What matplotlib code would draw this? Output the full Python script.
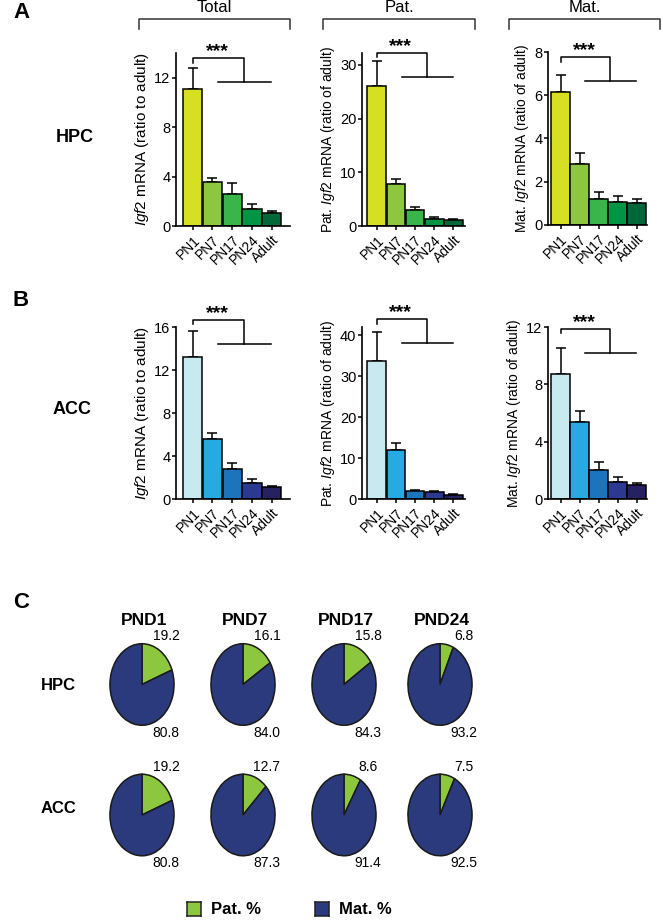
import matplotlib
matplotlib.use('Agg')
import matplotlib.pyplot as plt
import matplotlib.transforms as mtransforms

plt.rcParams['font.family'] = ['Liberation Sans', 'DejaVu Sans']
plt.rcParams['mathtext.fontset'] = 'custom'
plt.rcParams['mathtext.it'] = 'Liberation Sans:italic'
plt.rcParams['mathtext.rm'] = 'Liberation Sans'

# ---- data ----
ages = ['PN1', 'PN7', 'PN17', 'PN24', 'Adult']
hpc_total = [11.05, 3.55, 2.63, 1.34, 1.05]
hpc_total_err = [1.7, 0.3, 0.83, 0.43, 0.13]
hpc_pat = [26.1, 7.76, 2.98, 1.3, 1.06]
hpc_pat_err = [4.6, 1.0, 0.56, 0.38, 0.15]
hpc_mat = [6.17, 2.81, 1.19, 1.05, 1.02]
hpc_mat_err = [0.77, 0.51, 0.34, 0.28, 0.18]
acc_total = [13.2, 5.59, 2.81, 1.48, 1.08]
acc_total_err = [2.4, 0.58, 0.53, 0.4, 0.09]
acc_pat = [33.8, 11.95, 1.95, 1.6, 1.05]
acc_pat_err = [6.9, 1.7, 0.25, 0.35, 0.25]
acc_mat = [8.74, 5.39, 2.0, 1.21, 1.0]
acc_mat_err = [1.82, 0.75, 0.6, 0.3, 0.12]

pnd = ['PND1', 'PND7', 'PND17', 'PND24']
hpc_pat_pct = [19.2, 16.1, 15.8, 6.8]
hpc_mat_pct = [80.8, 84.0, 84.3, 93.2]
acc_pat_pct = [19.2, 12.7, 8.6, 7.5]
acc_mat_pct = [80.8, 87.3, 91.4, 92.5]

green_cols = ['#d7df23', '#8dc63f', '#39b54a', '#009444', '#006838']
blue_cols = ['#c9e9f1', '#27aae1', '#1c75bc', '#2b3990', '#262262']
PAT_C, MAT_C = '#8dc63f', '#2a3a7c'

W, H = 663, 922
fig = plt.figure(figsize=(W / 100, H / 100), dpi=100)

def px_axes(x0, y0, x1, y1):
    # pixel box (top-left origin) -> figure axes
    return fig.add_axes([x0 / W, 1 - y1 / H, (x1 - x0) / W, (y1 - y0) / H])

ylab_total = r'$\it{Igf2}$ mRNA (ratio to adult)'
ylab_pat = r'Pat. $\it{Igf2}$ mRNA (ratio of adult)'
ylab_mat = r'Mat. $\it{Igf2}$ mRNA (ratio of adult)'

# (values, err, colors, pixel box, ylim, yticks, ylabel, label size, xlim, bracket top frac)
bar_panels = [
    (hpc_total, hpc_total_err, green_cols, (176, 53, 290, 226), 14, [0, 4, 8, 12], ylab_total, 11, (-0.85, 4.93), 0.97),
    (hpc_pat, hpc_pat_err, green_cols, (362, 53, 465, 226), 32.2, [0, 10, 20, 30], ylab_pat, 10, (-0.76, 4.6), 1.0),
    (hpc_mat, hpc_mat_err, green_cols, (548, 52, 647, 225), 8, [0, 2, 4, 6, 8], ylab_mat, 10, (-0.66, 4.55), 0.97),
    (acc_total, acc_total_err, blue_cols, (176, 327, 290, 499), 16, [0, 4, 8, 12, 16], ylab_total, 11, (-0.85, 4.93), 1.04),
    (acc_pat, acc_pat_err, blue_cols, (362, 327, 465, 499), 42, [0, 10, 20, 30, 40], ylab_pat, 10, (-0.76, 4.6), 1.045),
    (acc_mat, acc_mat_err, blue_cols, (548, 327, 647, 499), 12, [0, 4, 8, 12], ylab_mat, 10, (-0.66, 4.55), 0.99),
]

for vals, errs, cols, box, ytop, yt, ylab, lsz, xl, btop in bar_panels:
    ax = px_axes(*box)
    xs = list(range(len(vals)))
    ax.bar(xs, vals, width=0.97, color=cols, edgecolor='black', linewidth=1.1, zorder=2)
    ax.errorbar(xs, vals, yerr=[[0] * len(errs), errs], fmt='none', ecolor='black',
                elinewidth=1.1, capsize=3.6, capthick=1.1, zorder=1)
    ax.set_xlim(*xl)
    ax.set_ylim(0, ytop)
    ax.set_yticks(yt)
    ax.set_xticks(xs)
    ax.set_xticklabels(ages, rotation=45, ha='right', rotation_mode='anchor', fontsize=10)
    ax.tick_params(axis='y', labelsize=10.5, width=1.1, length=3, pad=1)
    ax.tick_params(axis='x', width=1.1, length=3, pad=2)
    for s in ['top', 'right']:
        ax.spines[s].set_visible(False)
    for s in ['left', 'bottom']:
        ax.spines[s].set_linewidth(1.2)
    ax.set_ylabel(ylab, fontsize=lsz, labelpad=2)
    # significance bracket
    tr = mtransforms.blended_transform_factory(ax.transData, ax.transAxes)
    low = btop - 0.14
    kw = dict(color='black', lw=1.1, transform=tr, clip_on=False)
    ax.plot([0, 0, 2.6, 2.6], [btop - 0.025, btop, btop, low], **kw)
    ax.plot([1.3, 3.95], [low, low], **kw)
    ax.text(1.25, btop - 0.012, '***', transform=tr, ha='center', va='bottom',
            fontsize=14, fontweight='bold')

# column brackets
for x0, x1, lab in [(139, 290, 'Total'), (323, 475, 'Pat.'), (509, 660, 'Mat.')]:
    fig.lines.append(plt.Line2D([x0 / W, x0 / W, x1 / W, x1 / W],
                                [1 - 29 / H, 1 - 19 / H, 1 - 19 / H, 1 - 29 / H],
                                color='#333333', lw=1.1, transform=fig.transFigure))
    fig.text((x0 + x1) / 2 / W, 1 - 8 / H, lab, ha='center', va='center', fontsize=12)

def ftext(x, y, s, **kw):
    fig.text(x / W, 1 - y / H, s, **kw)

ftext(13, 13, 'A', fontsize=16, fontweight='bold', va='center', ha='left')
ftext(13, 300, 'B', fontsize=16, fontweight='bold', va='center', ha='left')
ftext(13, 602, 'C', fontsize=16, fontweight='bold', va='center', ha='left')
ftext(75, 138, 'HPC', fontsize=13, fontweight='bold', ha='center', va='center')
ftext(72, 410, 'ACC', fontsize=13, fontweight='bold', ha='center', va='center')
ftext(58, 685, 'HPC', fontsize=12, fontweight='bold', ha='center', va='center')
ftext(58, 808, 'ACC', fontsize=12, fontweight='bold', ha='center', va='center')

# ---- pies ----
pie_cx = [142, 243, 344, 440]
pie_rows = [(hpc_pat_pct, hpc_mat_pct, 684.5), (acc_pat_pct, acc_mat_pct, 815)]
for i, name in enumerate(pnd):
    ftext(pie_cx[i] + 2, 620, name, fontsize=12.5, fontweight='bold', ha='center', va='center')
for pat, mat, cy in pie_rows:
    for i in range(len(pnd)):
        cx = pie_cx[i]
        ax = px_axes(cx - 33, cy - 42, cx + 33, cy + 42)
        ax.pie([pat[i], mat[i]], colors=[PAT_C, MAT_C], startangle=90, counterclock=False,
               wedgeprops=dict(edgecolor='#1a1a1a', linewidth=1.1))
        ax.set_aspect('auto')
        ax.set_xlim(-1.03, 1.03)
        ax.set_ylim(-1.03, 1.03)
        ax.axis('off')
        ftext(cx + 24, cy - 48, f'{pat[i]:.1f}', fontsize=10, ha='center', va='center')
        ftext(cx + 24, cy + 48, f'{mat[i]:.1f}', fontsize=10, ha='center', va='center')

# legend
for x0, col, lab in [(187, PAT_C, 'Pat. %'), (315, MAT_C, 'Mat. %')]:
    lax = px_axes(x0, 902, x0 + 14, 916)
    lax.set_facecolor(col)
    lax.set_xticks([])
    lax.set_yticks([])
    for s in lax.spines.values():
        s.set_color('#222222')
        s.set_linewidth(1.1)
    ftext(x0 + 24, 909, lab, fontsize=12, fontweight='bold', ha='left', va='center')

fig.savefig('out.png', dpi=100)
